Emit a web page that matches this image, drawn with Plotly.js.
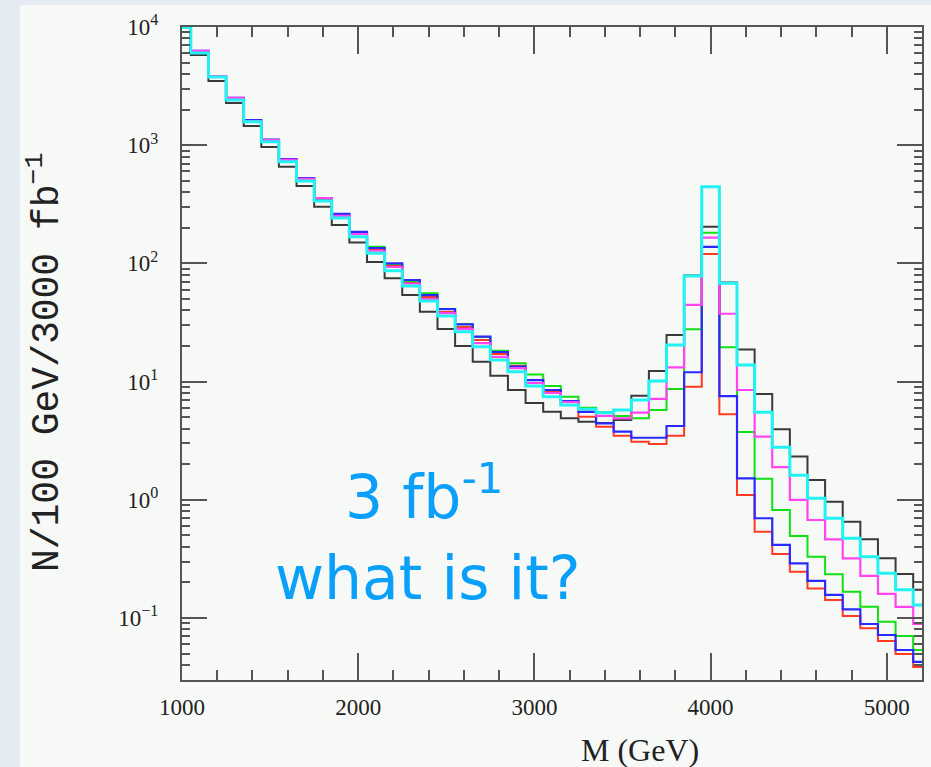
<!DOCTYPE html>
<html>
<head>
<meta charset="utf-8">
<script src="https://cdn.plot.ly/plotly-3.0.1.min.js"></script>
<style>html,body{margin:0;padding:0;background:#f7f9f7;}</style>
</head>
<body>
<div id="chart" style="width:931px;height:767px;"></div>
<script>
// Bin centres (GeV), 100 GeV bins
const massGeV = [1000,1100,1200,1300,1400,1500,1600,1700,1800,1900,2000,2100,2200,2300,2400,2500,2600,2700,2800,2900,3000,3100,3200,3300,3400,3500,3600,3700,3800,3900,4000,4100,4200,4300,4400,4500,4600,4700,4800,4900,5000,5100,5200];

const blackSeries = [9800,5800,3490,2275,1453,966,658,452,302,211,150,103,74.8,54.0,39.0,27.9,20.0,14.7,11.2,8.49,6.59,5.56,4.89,4.58,4.47,4.73,7.60,12.3,24.8,79,204,68.9,18.7,7.85,3.95,2.32,1.47,0.964,0.653,0.463,0.320,0.236,0.173];
const redSeries = [9900,6140,3850,2460,1602,1096,750,513,351,252,177,130,95.1,68.7,52.0,38.8,29.0,22.5,17.1,13.6,10.3,8.33,6.34,5.05,4.15,3.49,3.10,2.97,3.49,9.05,120,5.29,1.10,0.537,0.348,0.246,0.178,0.142,0.104,0.0818,0.0639,0.0496,0.0385];
const greenSeries = [9900,6140,3850,2510,1618,1107,757,523,354,259,184,138,98.8,71.0,55.8,41.1,30.7,23.8,18.2,14.3,11.5,9.18,7.45,6.01,5.53,5.12,4.89,5.75,8.66,27.7,182,19.5,3.75,1.51,0.820,0.494,0.330,0.234,0.167,0.1246,0.0931,0.0704,0.0536];
const blueSeries = [9900,6270,3850,2510,1633,1117,764,528,357,262,185,135,100,72.4,54.0,41.1,30.5,24.0,17.8,13.4,10.3,8.49,6.85,5.53,4.44,3.77,3.35,3.35,4.21,12.0,138,7.55,1.52,0.698,0.415,0.290,0.206,0.157,0.1185,0.089,0.0718,0.0536,0.0425];
const magentaSeries = [9900,6270,3850,2510,1602,1107,750,518,357,252,177,128,93.2,67.6,50.0,38.0,27.9,21.2,16.2,13.0,9.73,8.01,6.72,5.75,5.12,4.89,5.46,7.13,13.2,44.5,165,37.5,8.49,3.42,1.89,1.0,0.675,0.463,0.320,0.227,0.160,0.124,0.089];
const cyanSeries = [9900,6030,3780,2410,1580,1072,724,498,337,242,168,122,86.7,64.4,48.1,35.9,26.4,19.7,15.2,12.1,9.18,7.45,6.34,5.83,5.46,5.75,6.98,10.1,20.4,78.2,446,67.9,13.8,5.50,2.78,1.61,1.03,0.698,0.472,0.330,0.239,0.173,0.129];

const yTickVals = [0.1, 1, 10, 100, 1000, 10000];
const yTickText = ['10<sup>\u22121</sup>','10<sup>0</sup>','10<sup>1</sup>','10<sup>2</sup>','10<sup>3</sup>','10<sup>4</sup>'];
const xTickVals = [1000, 2000, 3000, 4000, 5000];
const xTickText = ['1000','2000','3000','4000','5000'];

const seriesList = [
  {y: blackSeries, color: '#3a3a3a', w: 2},
  {y: redSeries, color: '#ff3a22', w: 2},
  {y: greenSeries, color: '#12e012', w: 2},
  {y: blueSeries, color: '#2a2aff', w: 2.2},
  {y: magentaSeries, color: '#ff44f0', w: 2.2},
  {y: cyanSeries, color: '#22f2f2', w: 3}
];

const traces = seriesList.map(s => ({
  x: massGeV, y: s.y, type: 'scatter', mode: 'lines',
  line: {shape: 'hvh', color: s.color, width: s.w},
  hoverinfo: 'x+y', showlegend: false
}));

const axisColor = '#555';
const tickFont = {family: '"Liberation Serif", "Times New Roman", serif', size: 23, color: '#222'};

const layout = {
  width: 931, height: 767,
  margin: {l: 182, r: 9, t: 27, b: 87, pad: 0},
  paper_bgcolor: '#f7f9f7', plot_bgcolor: '#f7f9f7',
  showlegend: false,
  xaxis: {
    type: 'linear', range: [1000, 5200],
    tickmode: 'array', tickvals: xTickVals, ticktext: xTickText,
    ticks: 'inside', ticklen: 27, tickwidth: 2, tickcolor: axisColor,
    minor: {dtick: 200, tick0: 1000, ticks: 'inside', ticklen: 10, tickwidth: 2, tickcolor: axisColor, showgrid: false},
    showline: true, linecolor: axisColor, linewidth: 2, mirror: 'allticks',
    showgrid: false, zeroline: false,
    tickfont: tickFont, ticklabelstandoff: 5
  },
  yaxis: {
    type: 'log', range: [-1.5245, 4],
    tickmode: 'array', tickvals: yTickVals, ticktext: yTickText,
    ticks: 'inside', ticklen: 25, tickwidth: 2, tickcolor: axisColor,
    minor: {dtick: 'D1', ticks: 'inside', ticklen: 8, tickwidth: 2, tickcolor: axisColor, showgrid: false},
    showline: true, linecolor: axisColor, linewidth: 2, mirror: 'allticks',
    showgrid: false, zeroline: false,
    tickfont: tickFont, ticklabelstandoff: 17
  },
  shapes: [
    {type: 'rect', xref: 'paper', yref: 'paper', x0: -0.2459, x1: -0.2189, y0: -0.14, y1: 1.05, fillcolor: '#e4ebf2', line: {width: 0}, layer: 'below'},
    {type: 'rect', xref: 'paper', yref: 'paper', x0: -0.2459, x1: 1.02, y0: 1.0337, y1: 1.05, fillcolor: '#e4ebf2', line: {width: 0}, layer: 'below'}
  ],
  annotations: [
    {xref: 'paper', yref: 'paper', x: 0.327, y: 0.286, xanchor: 'center', yanchor: 'middle', showarrow: false,
     text: '3 fb<sup>-1</sup>', font: {family: '"DejaVu Sans", Verdana, sans-serif', size: 60, color: '#0aa0fa'}},
    {xref: 'paper', yref: 'paper', x: 0.332, y: 0.156, xanchor: 'center', yanchor: 'middle', showarrow: false,
     text: 'what is it?', font: {family: '"DejaVu Sans", Verdana, sans-serif', size: 60, color: '#0aa0fa'}},
    {xref: 'paper', yref: 'paper', x: -0.185, y: 0.487, xanchor: 'center', yanchor: 'middle', showarrow: false, textangle: -90,
     text: 'N/100 GeV/3000 fb<sup>\u22121</sup>', font: {family: '"Liberation Mono", "Courier New", monospace', size: 38, color: '#222'}},
    {xref: 'paper', yref: 'paper', x: 0.619, y: -0.107, xanchor: 'center', yanchor: 'middle', showarrow: false,
     text: 'M (GeV)', font: {family: '"Liberation Serif", "Times New Roman", serif', size: 32, color: '#222'}}
  ]
};

Plotly.newPlot('chart', traces, layout, {displayModeBar: false, staticPlot: true});
</script>
</body>
</html>
